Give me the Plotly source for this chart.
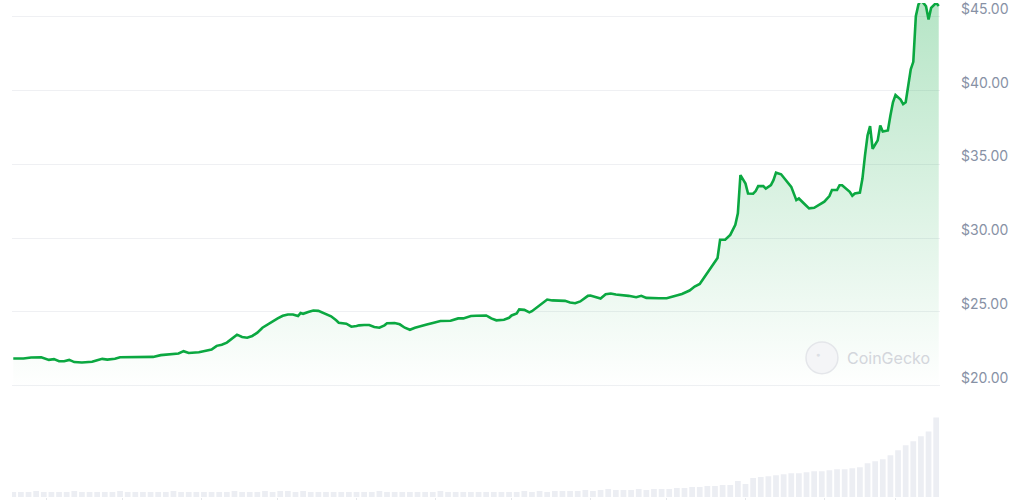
import pandas as pd
import plotly.graph_objects as go

START = "2024-03-19"

price_days = [0,4,7,11,14,16,18,20,22,24,27,31,33,35,37,40,42,45,47,51,55,58,61,63,65,67,69,73,75,78,80,82,84,86,88,90,92,94,96,98,101,104,106,108,110,112,113,114,116,118,120,122,125,127,128,131,133,135,136,138,140,142,144,146,147,150,152,154,156,158,161,163,165,168,172,175,177,180,182,186,187,188,190,193,195,196,198,199,201,203,204,206,208,210,212,214,217,219,221,223,224,226,227,229,231,233,235,237,240,242,245,247,249,251,254,257,259,261,263,266,268,270,272,274,275,277,278,280,282,284,285,286,288,289,291,292,293,295,296,298,299,300,302,304,305,306,308,309,311,313,315,317,319,321,322,324,325,326,327,329,330,331,333,334,335,336,337,338,340,341,342,344,345,346,347,349,350,351,353,354,355,356,357,359,360,361,363,364]
prices = [21.84,21.84,21.91,21.93,21.75,21.80,21.66,21.66,21.75,21.60,21.57,21.62,21.73,21.82,21.77,21.82,21.93,21.93,21.97,21.97,21.95,22.07,22.11,22.14,22.18,22.34,22.22,22.27,22.36,22.45,22.70,22.78,22.92,23.19,23.46,23.30,23.25,23.37,23.59,23.93,24.27,24.56,24.74,24.83,24.83,24.72,24.92,24.87,24.99,25.10,25.07,24.92,24.70,24.43,24.27,24.20,24.00,24.04,24.09,24.11,24.11,23.98,23.93,24.09,24.23,24.25,24.16,23.93,23.79,23.93,24.04,24.16,24.25,24.38,24.40,24.56,24.56,24.72,24.74,24.76,24.67,24.56,24.43,24.47,24.60,24.76,24.90,25.17,25.14,24.97,25.05,25.32,25.57,25.84,25.78,25.78,25.75,25.64,25.59,25.71,25.84,26.09,26.11,26.02,25.91,26.20,26.25,26.18,26.15,26.09,26.00,26.09,25.95,25.93,25.93,25.93,26.04,26.11,26.22,26.45,26.72,26.89,27.41,27.86,28.20,28.65,29.89,29.89,30.22,30.90,31.68,34.27,33.70,33.03,33.01,33.19,33.53,33.53,33.36,33.59,33.93,34.44,34.33,33.93,33.70,33.48,32.58,32.69,32.35,32.02,32.06,32.24,32.47,32.85,33.26,33.26,33.59,33.59,33.43,33.14,32.87,33.03,33.09,34.04,35.61,36.96,37.59,36.06,36.63,37.64,37.23,37.30,38.31,39.21,39.70,39.39,39.09,39.21,41.45,41.95,45.05,45.83,46.15,45.72,44.82,45.61,45.95,45.74]

# volume, one bar every 3 days (relative units)
volume_step_days = 3
volumes = [5,5,5,6,5,5,5,5,6,5,5,5,5,5,6,5,5,5,5,5,5,6,5,5,5,5,5,5,5,6,5,5,5,6,5,6,6,5,6,5,5,5,5,5,5,5,5,5,6,5,5,5,5,5,5,5,6,5,5,5,5,5,5,5,5,5,
           5,6,5,6,5,6,6,6,6,7,6,7,8,7,7,7,8,7,8,8,8,9,9,10,10,11,11,12,12,16,13,19,20,21,22,23,24,24,25,26,26,27,28,28,29,30,34,36,38,42,47,52,56,61,66,80]

tick_labels = ["$20.00", "$25.00", "$30.00", "$35.00", "$40.00", "$45.00"]
tick_values = [20, 25, 30, 35, 40, 45]

start = pd.Timestamp(START)
price_dates = [start + pd.Timedelta(days=d) for d in price_days]
vol_dates = [start + pd.Timedelta(days=i * volume_step_days) for i in range(len(volumes))]

LINE = "#0ba841"
fig = go.Figure()
fig.add_trace(go.Bar(
    x=vol_dates, y=volumes, yaxis="y2",
    marker=dict(color="#eceef3", line=dict(width=0)),
    hoverinfo="skip",
))
fig.add_trace(go.Scatter(
    x=price_dates, y=prices, mode="lines",
    line=dict(color=LINE, width=2.6),
    fill="tozeroy",
    fillgradient=dict(type="vertical", start=19.9, stop=46,
                      colorscale=[[0, "rgba(11,168,65,0.0)"], [1, "rgba(11,168,65,0.30)"]]),
    hoverinfo="skip",
))

# watermark
fig.add_shape(type="circle", xref="paper", yref="paper",
              x0=0.8556, x1=0.890, y0=0.2495, y1=0.3139,
              line=dict(color="#e4e6ea", width=1.5), fillcolor="#f4f5f7", layer="above")
fig.add_annotation(xref="paper", yref="paper", x=0.8685, y=0.289, text="●",
                   xanchor="center", yanchor="middle",
                   showarrow=False, font=dict(size=7, color="#dcdfe4"))
fig.add_annotation(xref="paper", yref="paper", x=0.898, y=0.2817, text="CoinGecko",
                   xanchor="left", yanchor="middle",
                   showarrow=False, font=dict(family="Inter, sans-serif", size=16, color="#d3d6dc"))

fig.update_layout(
    width=1024, height=500,
    margin=dict(l=12, r=84, t=0, b=3),
    paper_bgcolor="white", plot_bgcolor="white",
    showlegend=False, bargap=0.25, hovermode=False,
    xaxis=dict(
        type="date", anchor="y2",
        range=[start - pd.Timedelta(hours=12), start + pd.Timedelta(days=364, hours=12)],
        showgrid=False, zeroline=False, showticklabels=False,
        ticks="outside", ticklen=3, tickcolor="#e5e7eb", dtick="M1", tick0="2024-04-01",
        showline=False,
    ),
    yaxis=dict(
        domain=[0.2213, 1.0], range=[19.865, 45.94], side="right",
        tickvals=tick_values, ticktext=tick_labels,
        showgrid=True, gridcolor="#eff0f3", gridwidth=1, zeroline=False,
        tickfont=dict(family="Inter, sans-serif", size=14, color="#8791a5"),
        ticks="", ticklabelstandoff=20, ticklabelshift=-8, ticklabeloverflow="allow",
    ),
    yaxis2=dict(
        domain=[0.0, 0.2], range=[0, 99.4], visible=False,
    ),
)

fig.write_html("out.html", config={"displayModeBar": False},
               post_script="document.body.style.margin='0';")
